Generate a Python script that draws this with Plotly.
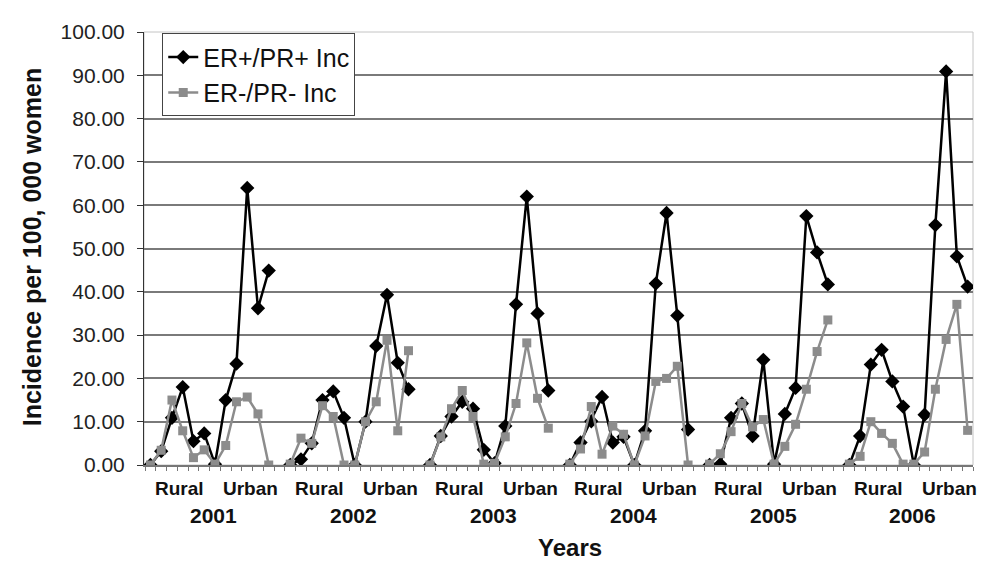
import plotly.graph_objects as go

years = ["2001", "2002", "2003", "2004", "2005", "2006"]
groups = ["Rural", "Urban"]
slots_per_year = 13  # 12 age/area points + 1 empty gap slot

er_pos = {
    "2001": [0, 3.2, 10.9, 18.0, 5.5, 7.3, 0.2, 15.0, 23.4, 64.0, 36.2, 44.9],
    "2002": [0, 1.3, 5.0, 15.0, 17.0, 10.9, 0, 10.0, 27.5, 39.3, 23.6, 17.5],
    "2003": [0, 6.7, 11.2, 14.6, 13.0, 3.5, 0.4, 9.0, 37.1, 62.0, 35.0, 17.2],
    "2004": [0, 5.2, 10.1, 15.7, 5.2, 6.5, 0, 7.9, 41.9, 58.2, 34.5, 8.2],
    "2005": [0, 0.2, 10.9, 14.2, 6.7, 24.3, 0.2, 11.8, 17.8, 57.5, 49.1, 41.7],
    "2006": [0, 6.7, 23.2, 26.6, 19.3, 13.5, 0, 11.6, 55.4, 90.9, 48.2, 41.2],
}
er_neg = {
    "2001": [0, 3.4, 15.0, 7.9, 1.7, 3.5, 0.2, 4.5, 14.6, 15.7, 11.8, 0],
    "2002": [0.2, 6.2, 5.0, 13.7, 11.2, 0, 0, 10.0, 14.6, 28.8, 7.9, 26.4],
    "2003": [0, 6.5, 13.0, 17.2, 11.2, 0.2, 0.4, 6.5, 14.2, 28.2, 15.4, 8.5],
    "2004": [0.2, 3.7, 13.5, 2.5, 9.0, 7.1, 0, 6.7, 19.3, 20.0, 22.8, 0],
    "2005": [0.2, 2.6, 7.7, 14.2, 8.8, 10.5, 0.2, 4.3, 9.4, 17.5, 26.2, 33.5],
    "2006": [0.2, 2.0, 10.0, 7.3, 5.0, 0.2, 0.2, 3.0, 17.5, 29.0, 37.1, 8.0],
}

# Build x positions (slot index) with gaps between years
xs, y_pos, y_neg = [], [], []
for i, yr in enumerate(years):
    for j in range(slots_per_year):
        xs.append(i * slots_per_year + j)
        if j < len(er_pos[yr]):
            y_pos.append(er_pos[yr][j])
            y_neg.append(er_neg[yr][j])
        else:
            y_pos.append(None)
            y_neg.append(None)

FONT = "Liberation Sans, Arial, sans-serif"

fig = go.Figure()
fig.add_trace(go.Scatter(
    x=xs, y=y_pos, name="ER+/PR+ Inc", mode="lines+markers",
    line=dict(color="#000000", width=2.5),
    marker=dict(symbol="diamond", size=11, color="#000000"),
    connectgaps=False,
))
fig.add_trace(go.Scatter(
    x=xs, y=y_neg, name="ER-/PR- Inc", mode="lines+markers",
    line=dict(color="#8c8c8c", width=2.5),
    marker=dict(symbol="square", size=9, color="#8c8c8c"),
    connectgaps=False,
))

annotations = []
rural_off, urban_off, year_off = 2.7, 9.3, 5.9
for i, yr in enumerate(years):
    base = i * slots_per_year
    for off, txt in ((rural_off, groups[0]), (urban_off, groups[1])):
        annotations.append(dict(x=base + off, y=-0.054, xref="x", yref="paper",
                                xanchor="center", yanchor="middle",
                                text=f"<b>{txt}</b>", showarrow=False,
                                font=dict(size=19, color="#111", family=FONT)))
    annotations.append(dict(x=base + year_off, y=-0.117, xref="x", yref="paper",
                            xanchor="center", yanchor="middle",
                            text=f"<b>{yr}</b>", showarrow=False,
                            font=dict(size=21, color="#111", family=FONT)))
annotations.append(dict(x=0.514, y=-0.19, xref="paper", yref="paper",
                        xanchor="center", yanchor="middle",
                        text="<b>Years</b>", showarrow=False,
                        font=dict(size=24, color="#111", family=FONT)))
annotations.append(dict(x=-0.135, y=0.503, xref="paper", yref="paper",
                        xanchor="center", yanchor="middle",
                        text="<b>Incidence per 100, 000 women</b>", showarrow=False,
                        textangle=-90,
                        font=dict(size=25, color="#111", family=FONT)))

tickvals_x = [k + 0.5 for k in range(-1, len(xs))]

# page body has an 8px default margin; figure size/margins compensate for it
fig.update_layout(
    width=978, height=559,
    margin=dict(l=136, r=13, t=12, b=102),
    paper_bgcolor="white", plot_bgcolor="white",
    font=dict(family=FONT, color="#111"),
    showlegend=True,
    legend=dict(x=0.022, y=0.997, xanchor="left", yanchor="top",
                bgcolor="white", bordercolor="#444", borderwidth=1,
                font=dict(size=25, color="#111", family=FONT),
                tracegroupgap=0, itemwidth=30),
    annotations=annotations,
    xaxis=dict(range=[-0.6, 76.5], tickvals=tickvals_x, ticktext=[""] * len(tickvals_x),
               ticks="outside", ticklen=4, tickcolor="#777", tickwidth=1,
               showgrid=False, zeroline=False, showline=True,
               linecolor="#777", linewidth=1.5),
    yaxis=dict(range=[0, 100], dtick=10, tickformat=".2f",
               ticks="outside", ticklen=6, tickcolor="#333",
               ticklabelstandoff=8,
               showgrid=True, gridcolor="#7a7a7a", gridwidth=1.5,
               zeroline=False, showline=True, linecolor="#333", linewidth=1,
               tickfont=dict(size=21, color="#222", family=FONT)),
    shapes=[dict(type="rect", xref="paper", yref="paper", x0=0, y0=0, x1=1, y1=1,
                 line=dict(color="#c4c4c4", width=1), layer="below")],
)

fig.write_html("out.html")
